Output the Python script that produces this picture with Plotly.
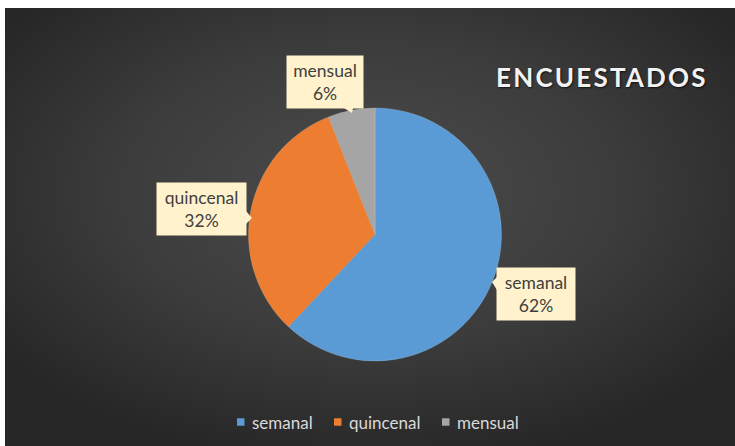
import base64
import plotly.graph_objects as go

# ---- data ----
labels = ["semanal", "quincenal", "mensual"]
values = [62, 32, 6]
colors = ["#5B9BD5", "#ED7D31", "#A5A5A5"]
title_text = "ENCUESTADOS"

W, H = 735, 446


def px(x):
    return x / W


def py(y):
    return 1 - y / H


fig = go.Figure()
fig.add_trace(go.Pie(
    labels=labels,
    values=values,
    marker=dict(colors=colors, line=dict(color="rgba(255,255,255,0.25)", width=0.6)),
    sort=False,
    direction="clockwise",
    rotation=0,
    textinfo="none",
    hoverinfo="label+percent",
    showlegend=False,
    domain=dict(x=[px(375 - 126.5), px(375 + 126.5)], y=[py(361), py(108)]),
))

# background gradient (chart area)
svg = (
    '<svg xmlns="http://www.w3.org/2000/svg" width="730" height="438" preserveAspectRatio="none">'
    '<defs><radialGradient id="g" cx="50%" cy="42%" r="62%">'
    '<stop offset="0" stop-color="#4c4c4c"/><stop offset="0.55" stop-color="#3c3c3c"/>'
    '<stop offset="1" stop-color="#272727"/></radialGradient></defs>'
    '<rect width="730" height="438" fill="url(#g)"/></svg>'
)
src = "data:image/svg+xml;base64," + base64.b64encode(svg.encode()).decode()

shapes = []

# callout label boxes
total = sum(values)
boxes = {
    "mensual": dict(x0=287, x1=363, y0=56, y1=108, ptr=[(344, 108), (353, 108), (352, 113)]),
    "quincenal": dict(x0=157, x1=246, y0=183, y1=235, ptr=[(246, 211), (246, 224), (252, 218)]),
    "semanal": dict(x0=497, x1=575, y0=268, y1=320, ptr=[(497, 277), (497, 290), (492, 282)]),
}
annotations = []
for lab, val in zip(labels, values):
    b = boxes[lab]
    pct = round(100 * val / total)
    annotations.append(dict(
        x=px((b["x0"] + b["x1"]) / 2), y=py((b["y0"] + b["y1"]) / 2),
        xref="paper", yref="paper", showarrow=False,
        text=f"{lab}<br>{pct}%",
        font=dict(family="Lato, 'Open Sans', sans-serif", size=17.5, color="#404040"),
        bgcolor="#FFF2CC", borderpad=0,
        width=b["x1"] - b["x0"], height=b["y1"] - b["y0"],
        xanchor="center", yanchor="middle", align="center", valign="middle",
    ))
    p = b["ptr"]
    path = "M {} {} L {} {} L {} {} Z".format(
        px(p[0][0]), py(p[0][1]), px(p[1][0]), py(p[1][1]), px(p[2][0]), py(p[2][1]))
    shapes.append(dict(type="path", xref="paper", yref="paper", path=path,
                       fillcolor="#FFF2CC", line=dict(width=0), layer="above"))

# title
annotations.append(dict(
    x=px(602), y=py(77), xref="paper", yref="paper", showarrow=False,
    text='<span style="letter-spacing:2.2px">' + title_text + '</span>',
    font=dict(family="Lato, 'Open Sans', sans-serif", size=26, color="#F2F2F2",
              weight="bold", shadow="1px 1px 2px rgba(0,0,0,0.7)"),
    xanchor="center", yanchor="middle",
))

# legend (manual, small squares)
leg_sq_x = [237, 334, 442]
leg_y = 422
for lab, col, sx in zip(labels, colors, leg_sq_x):
    shapes.append(dict(type="rect", xref="paper", yref="paper",
                       x0=px(sx), x1=px(sx + 7.5), y0=py(leg_y + 3.75), y1=py(leg_y - 3.75),
                       fillcolor=col, line=dict(width=0), layer="above"))
    annotations.append(dict(
        x=px(sx + 13), y=py(leg_y), xref="paper", yref="paper", showarrow=False,
        text=lab, xanchor="left", yanchor="middle",
        font=dict(family="Lato, 'Open Sans', sans-serif", size=17, color="#D9D9D9"),
    ))

fig.update_layout(
    width=W, height=H,
    margin=dict(l=0, r=0, t=0, b=0),
    paper_bgcolor="#FFFFFF",
    plot_bgcolor="rgba(0,0,0,0)",
    shapes=shapes,
    annotations=annotations,
    images=[dict(source=src, xref="paper", yref="paper", x=px(5), y=py(8),
                 sizex=1 - px(5), sizey=py(8), sizing="stretch",
                 xanchor="left", yanchor="top", layer="below")],
    showlegend=False,
)

fig.write_html("out.html", config={"displayModeBar": False},
               post_script="document.body.style.margin='0px';")
